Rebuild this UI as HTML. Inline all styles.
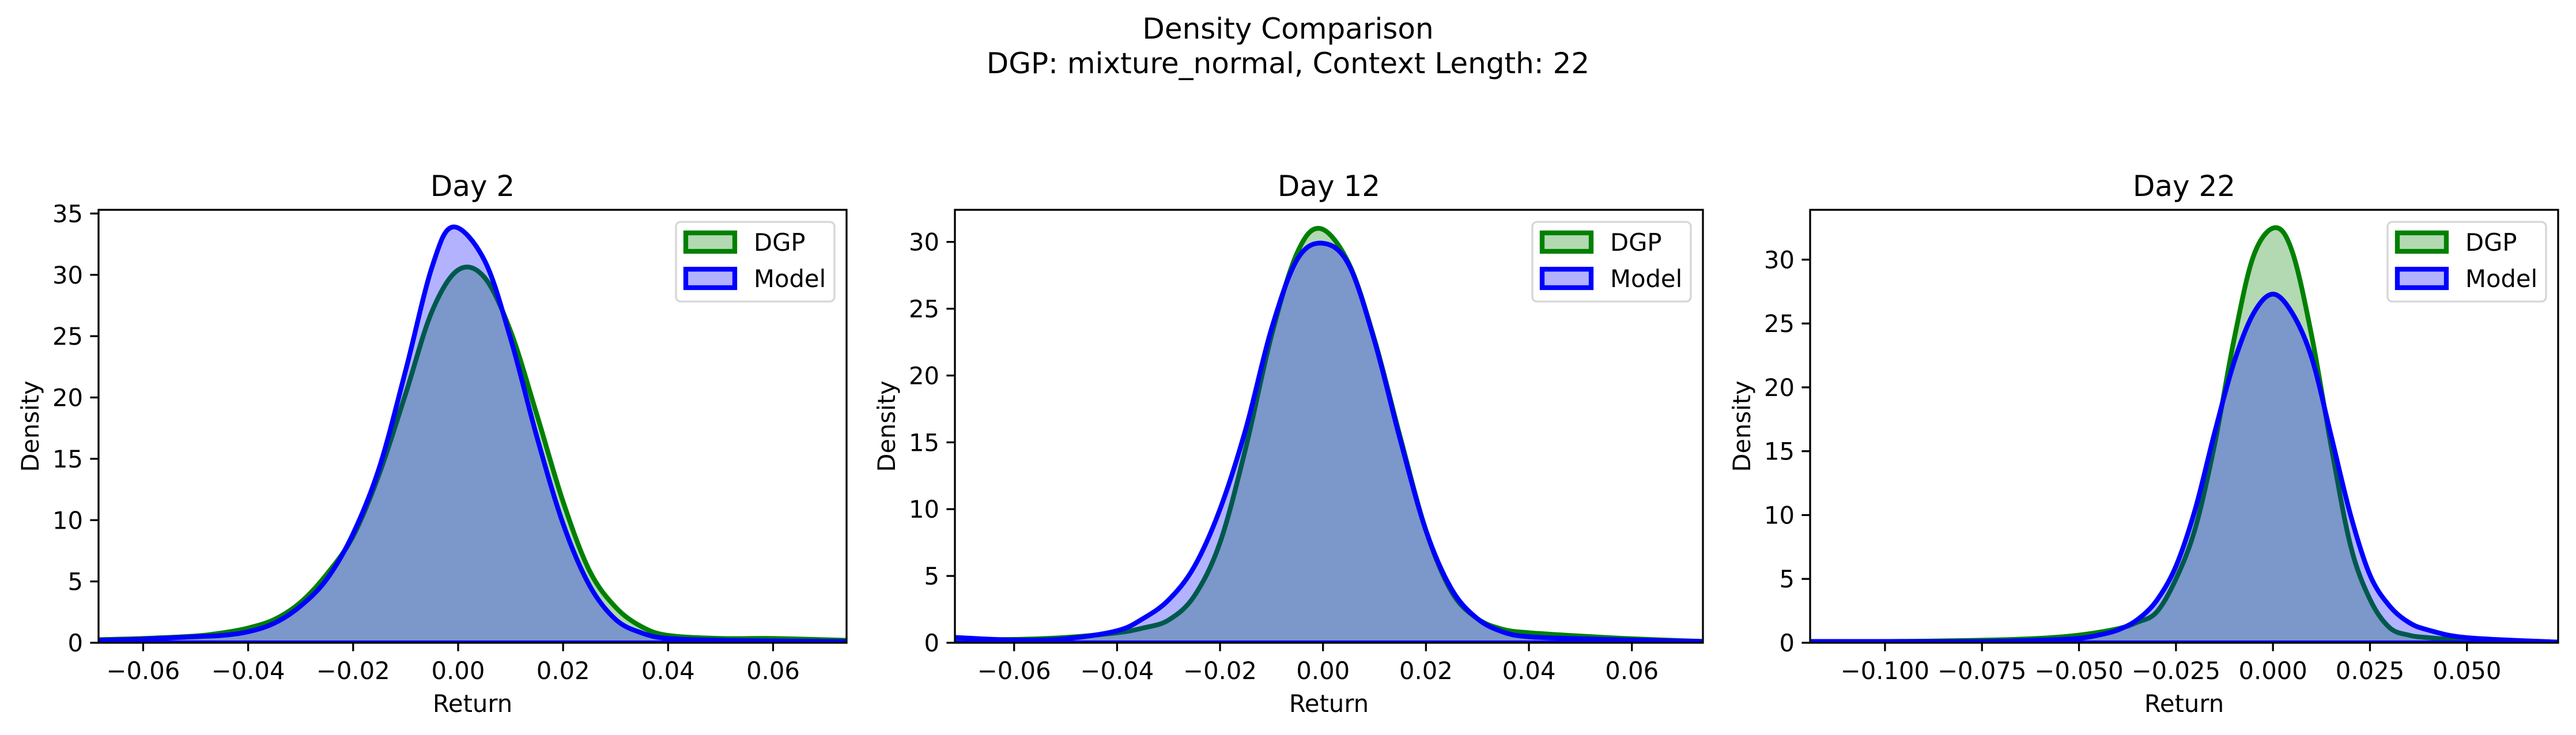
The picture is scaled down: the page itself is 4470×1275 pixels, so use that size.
<!DOCTYPE html>
<html><head><meta charset="utf-8">
<style>
html,body{margin:0;padding:0;background:#fff;}
svg{display:block;font-family:"DejaVu Sans","Liberation Sans",sans-serif;}
</style></head>
<body>
<svg id="chart" width="4470" height="1275" viewBox="0 0 4470 1275" xmlns="http://www.w3.org/2000/svg">
<text x="2235" y="67" font-size="50" text-anchor="middle">Density Comparison</text>
<text x="2235" y="127" font-size="50" text-anchor="middle">DGP: mixture_normal, Context Length: 22</text>
<g id="panels"></g>
</svg>
<script>
// ---- Day 2 data ----
const day2DgpX   = [-0.0685,-0.06,-0.05,-0.045,-0.04,-0.035,-0.03,-0.025,-0.02,-0.015,-0.01,-0.005,0,0.005,0.01,0.015,0.02,0.025,0.03,0.035,0.04,0.05,0.06,0.074];
const day2DgpY   = [0.25,0.35,0.55,0.8,1.2,1.9,3.3,5.6,8.7,13.8,20.3,27,30.4,29.8,25.4,18.6,11.5,5.9,2.9,1.3,0.6,0.35,0.35,0.2];
const day2ModelX = [-0.0685,-0.06,-0.05,-0.045,-0.04,-0.035,-0.03,-0.025,-0.02,-0.015,-0.01,-0.005,-0.001,0.005,0.01,0.015,0.02,0.025,0.03,0.035,0.04,0.05,0.06,0.074];
const day2ModelY = [0.2,0.3,0.5,0.6,0.9,1.6,3.0,5.2,8.9,14.3,22.2,30.6,33.9,31.2,24.8,16.8,9.7,4.7,1.9,0.8,0.35,0.2,0.15,0.1];
// ---- Day 12 data ----
const day12DgpX   = [-0.0715,-0.06,-0.05,-0.04,-0.035,-0.03,-0.025,-0.02,-0.015,-0.01,-0.005,-0.0005,0.005,0.01,0.015,0.02,0.025,0.03,0.035,0.04,0.05,0.06,0.0738];
const day12DgpY   = [0.25,0.25,0.4,0.75,1.1,1.7,3.5,7.5,14.6,23,29.2,31,28.4,22.7,15.4,8.4,3.8,1.8,1.0,0.75,0.5,0.3,0.1];
const day12ModelX = [-0.0715,-0.06,-0.05,-0.04,-0.035,-0.03,-0.025,-0.02,-0.015,-0.01,-0.005,0,0.005,0.01,0.015,0.02,0.025,0.03,0.035,0.04,0.05,0.06,0.0738];
const day12ModelY = [0.4,0.2,0.3,0.9,1.8,3.2,5.7,10,16,23.5,28.7,29.9,28.3,22.6,15.2,8.4,4.0,1.8,0.8,0.45,0.3,0.2,0.1];
// ---- Day 22 data ----
const day22DgpX   = [-0.1193,-0.1,-0.075,-0.06,-0.05,-0.04,-0.035,-0.03,-0.025,-0.02,-0.015,-0.01,-0.005,0.0005,0.005,0.01,0.015,0.02,0.025,0.03,0.035,0.04,0.05,0.0735];
const day22DgpY   = [0.1,0.1,0.2,0.35,0.6,1.1,1.6,2.4,5.0,9.0,15.6,23.8,30.3,32.5,30.6,24,15.4,7.6,3.4,1.2,0.6,0.4,0.2,0.05];
const day22ModelX = [-0.1193,-0.1,-0.075,-0.06,-0.05,-0.045,-0.04,-0.035,-0.03,-0.025,-0.02,-0.015,-0.01,-0.005,0,0.005,0.01,0.015,0.02,0.025,0.03,0.035,0.04,0.05,0.0735];
const day22ModelY = [0.1,0.1,0.1,0.2,0.35,0.6,1.0,1.8,3.3,6.0,10.5,16.5,22.0,25.8,27.3,25.8,22.3,16.2,10.0,5.3,2.9,1.6,1.0,0.4,0.05];
// ---- axes ----
const panelTitles = ["Day 2","Day 12","Day 22"];
const xLimits = [[-0.0685,0.074],[-0.0715,0.0738],[-0.1193,0.0735]];
const yLimits = [[0,35.3],[0,32.4],[0,33.9]];
const xTicks = [[-0.06,-0.04,-0.02,0,0.02,0.04,0.06],[-0.06,-0.04,-0.02,0,0.02,0.04,0.06],[-0.1,-0.075,-0.05,-0.025,0,0.025,0.05]];
const xTickLabels = [["\u22120.06","\u22120.04","\u22120.02","0.00","0.02","0.04","0.06"],["\u22120.06","\u22120.04","\u22120.02","0.00","0.02","0.04","0.06"],["\u22120.100","\u22120.075","\u22120.050","\u22120.025","0.000","0.025","0.050"]];
const yTicks = [[0,5,10,15,20,25,30,35],[0,5,10,15,20,25,30],[0,5,10,15,20,25,30]];
const seriesData = [[day2DgpX,day2DgpY,day2ModelX,day2ModelY],[day12DgpX,day12DgpY,day12ModelX,day12ModelY],[day22DgpX,day22DgpY,day22ModelX,day22ModelY]];

const NS="http://www.w3.org/2000/svg";
const root=document.getElementById('panels');
const lefts=[171,1657,3141], W=1298, TOP=364, BOT=1115;
function mk(tag,parent,attrs){const e=document.createElementNS(NS,tag);for(const k in attrs)e.setAttribute(k,attrs[k]);parent.appendChild(e);return e;}
function smoothPath(pts){
  let d=`M${pts[0][0]},${pts[0][1]}`;
  for(let i=0;i<pts.length-1;i++){
    const p0=pts[Math.max(i-1,0)],p1=pts[i],p2=pts[i+1],p3=pts[Math.min(i+2,pts.length-1)];
    const t=1/6;
    d+=` C${p1[0]+(p2[0]-p0[0])*t},${p1[1]+(p2[1]-p0[1])*t} ${p2[0]-(p3[0]-p1[0])*t},${p2[1]-(p3[1]-p1[1])*t} ${p2[0]},${p2[1]}`;
  }
  return d;
}
for(let p=0;p<3;p++){
  const L=lefts[p];
  const [x0,x1]=xLimits[p],[y0,y1]=yLimits[p];
  const sx=v=>L+(v-x0)/(x1-x0)*W;
  const sy=v=>BOT-(v-y0)/(y1-y0)*(BOT-TOP);
  const g=mk('g',root,{});
  
  
  mk('clipPath',g,{id:'clip'+p}).appendChild(document.createElementNS(NS,'rect'));
  const cr=g.querySelector('#clip'+p+' rect');cr.setAttribute('x',L);cr.setAttribute('y',TOP);cr.setAttribute('width',W);cr.setAttribute('height',BOT-TOP);
  const plot=mk('g',g,{'clip-path':`url(#clip${p})`});
  const [dx,dy,mx,my]=seriesData[p];
  const series=[[dx,dy,'#008000','dgp'],[mx,my,'#0000ff','model']];
  for(const [xs,ys,col,nm] of series){
    const pts=xs.map((v,i)=>[sx(v),sy(ys[i])]);
    const line=smoothPath(pts);
    const area=mk('path',plot,{d:line+` L${pts[pts.length-1][0]},${sy(0)} L${pts[0][0]},${sy(0)} Z`,fill:col,'fill-opacity':0.3,stroke:'none'});
    
    
    const ln=mk('path',plot,{d:line,fill:'none',stroke:col,'stroke-width':8.3,'stroke-linejoin':'round'});
    
    
    mk('line',plot,{x1:pts[0][0],x2:pts[pts.length-1][0],y1:sy(0)-2,y2:sy(0)-2,stroke:col,'stroke-width':4});
  }
  const fr=mk('rect',g,{x:L,y:TOP,width:W,height:BOT-TOP,fill:'none',stroke:'#000','stroke-width':3.3});
  
  
  xTicks[p].forEach((v,i)=>{
    const x=sx(v);
    mk('line',g,{x1:x,x2:x,y1:BOT,y2:BOT+14.6,stroke:'#000','stroke-width':3.3});
    const t=mk('text',g,{x:x,y:BOT+63,'font-size':41.7,'text-anchor':'middle'});
    t.textContent=xTickLabels[p][i];
    
    
  });
  yTicks[p].forEach(v=>{
    const y=sy(v);
    mk('line',g,{x1:L-14.6,x2:L,y1:y,y2:y,stroke:'#000','stroke-width':3.3});
    const t=mk('text',g,{x:L-27,y:y+15,'font-size':41.7,'text-anchor':'end'});
    t.textContent=String(v);
    
    
  });
  const tt=mk('text',g,{x:L+W/2,y:340,'font-size':50,'text-anchor':'middle'});
  tt.textContent=panelTitles[p];
  
  
  const xl=mk('text',g,{x:L+W/2,y:1235,'font-size':41.7,'text-anchor':'middle'});
  xl.textContent='Return';
  
  
  const ylx=L-104;
  const yl=mk('text',g,{x:ylx,y:(TOP+BOT)/2,'font-size':41.7,'text-anchor':'middle',transform:`rotate(-90 ${ylx} ${(TOP+BOT)/2})`});
  yl.textContent='Density';
  
  
  const lx=L+W-296, ly=385;
  const lg=mk('g',g,{});
  
  
  mk('rect',lg,{x:lx,y:ly,width:275,height:138,rx:8,fill:'#fff','fill-opacity':0.8,stroke:'#d6d6d6','stroke-width':3.3});
  [['DGP','#008000',404],['Model','#0000ff',467]].forEach(([lab,col,yy])=>{
    const sw=mk('rect',lg,{x:lx+17,y:yy,width:85,height:32,fill:col,'fill-opacity':0.3,stroke:col,'stroke-width':8.3});
    
    
    const t=mk('text',lg,{x:lx+135,y:yy+31,'font-size':41.7});
    t.textContent=lab;
    
    
  });
}
</script>
</body></html>
